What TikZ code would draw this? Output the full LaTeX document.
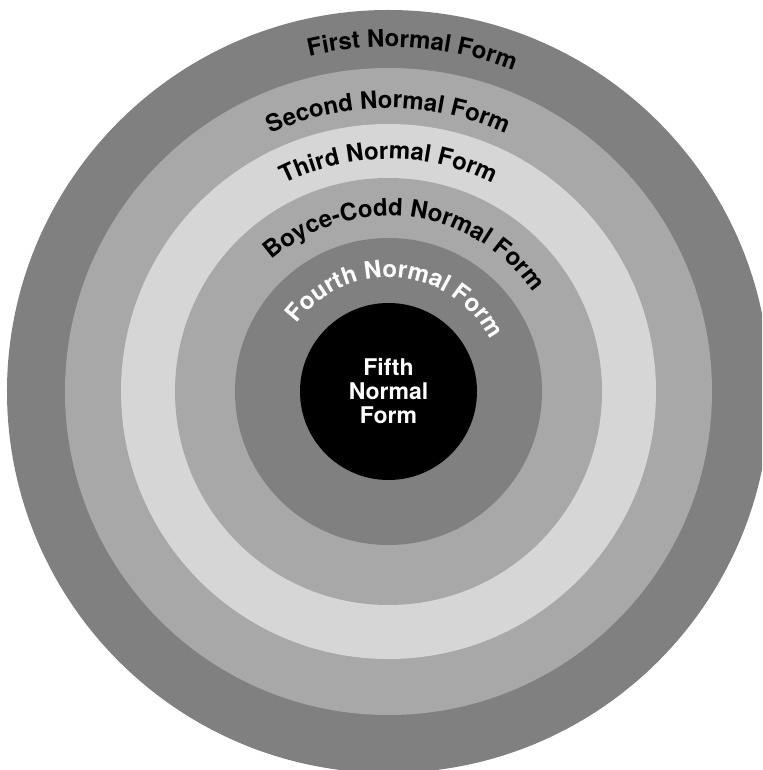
\documentclass[tikz,border=0pt]{standalone}
\usepackage{fontspec}
\setmainfont{TeX Gyre Heros}
\usepackage{tikz}
\usetikzlibrary{decorations.text}

\definecolor{ringdark}{gray}{0.5}
\definecolor{ringmid}{gray}{0.66}
\definecolor{ringlight}{gray}{0.84}
\newcommand{\ringfont}{\bfseries\fontsize{24}{28}\selectfont}

\begin{document}
\begin{tikzpicture}[
  ring/.style={fill=#1, draw=none},
  arctext/.style={decorate, decoration={text along path, text align=center, text color=#1}},
  core/.style={circle, fill=black, draw=none, minimum size=177pt, inner sep=0pt, text=white, align=center, font=\bfseries\fontsize{23}{24}\selectfont}
]
\clip (-388.5pt,-378.5pt) rectangle (373.5pt,391.5pt);
% rings, outside in
\fill[ring=ringdark]  (0,0) circle[radius=381.5pt];
\fill[ring=ringmid]   (0,0) circle[radius=323.5pt];
\fill[ring=ringlight] (0,0) circle[radius=267.5pt];
\fill[ring=ringmid]   (0,0) circle[radius=213.5pt];
\fill[ring=ringdark]  (0,0) circle[radius=153.5pt];
\node[core] (fifth) at (0,0) {Fifth\\Normal\\Form};
% labels along the rings
\path[arctext=black, decoration={text={|\ringfont|First Normal Form}}]
  (136:344.5pt) arc[start angle=136, end angle=36, radius=344.5pt];
\path[arctext=black, decoration={text={|\ringfont|Second Normal Form}}]
  (140:283.5pt) arc[start angle=140, end angle=40, radius=283.5pt];
\path[arctext=black, decoration={text={|\ringfont|Third Normal Form}}]
  (150:232.5pt) arc[start angle=150, end angle=30, radius=232.5pt];
\path[arctext=black, decoration={text={|\ringfont|Boyce-Codd Normal Form}}]
  (163:175.5pt) arc[start angle=163, end angle=3, radius=175.5pt];
\path[arctext=white, decoration={text={|\ringfont|Fourth Normal Form}}]
  (175:114pt) arc[start angle=175, end angle=-5, radius=114pt];
\end{tikzpicture}
\end{document}
